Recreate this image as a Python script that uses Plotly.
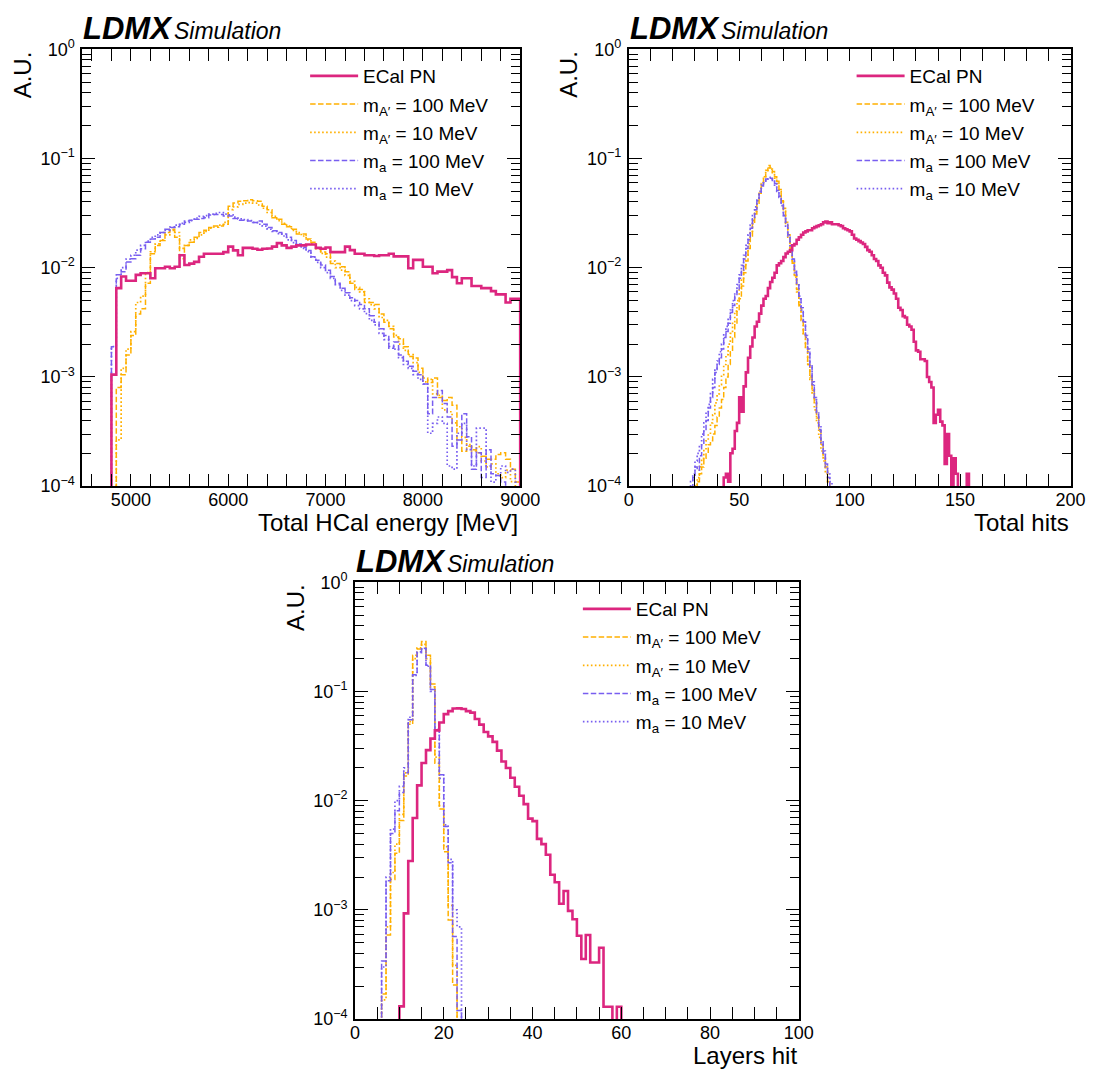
import numpy as np
import plotly.graph_objects as go

W, H = 1116, 1084

# ---------------- data ----------------
# Panel 1: Total HCal energy, 50 MeV bins starting at 4800 MeV
energy_start = 4800
energy_bin = 50
ecal_pn_energy = [
    1.05e-3, 6.5e-3, 8.3e-3, 7.6e-3, 7.6e-3, 8.6e-3, 8.9e-3, 8.9e-3, 8.0e-3, 9.9e-3,
    9.9e-3, 1.02e-2, 9.9e-3, 1.02e-2, 1.30e-2, 1.06e-2, 1.09e-2, 1.13e-2, 1.26e-2, 1.34e-2,
    1.34e-2, 1.34e-2, 1.34e-2, 1.39e-2, 1.56e-2, 1.44e-2, 1.30e-2, 1.52e-2, 1.52e-2, 1.49e-2,
    1.46e-2, 1.49e-2, 1.50e-2, 1.56e-2, 1.68e-2, 1.60e-2, 1.52e-2, 1.56e-2, 1.60e-2, 1.60e-2,
    1.63e-2, 1.63e-2, 1.52e-2, 1.49e-2, 1.53e-2, 1.39e-2, 1.39e-2, 1.39e-2, 1.56e-2, 1.45e-2,
    1.34e-2, 1.34e-2, 1.30e-2, 1.30e-2, 1.28e-2, 1.30e-2, 1.30e-2, 1.34e-2, 1.27e-2, 1.27e-2,
    1.27e-2, 9.9e-3, 1.18e-2, 1.18e-2, 1.02e-2, 1.02e-2, 8.9e-3, 9.2e-3, 9.2e-3, 9.5e-3,
    8.2e-3, 7.2e-3, 8.0e-3, 8.0e-3, 6.8e-3, 6.8e-3, 6.5e-3, 6.5e-3, 6.1e-3, 5.7e-3,
    5.7e-3, 4.8e-3, 5.2e-3, 5.2e-3]
aprime100_energy = [
    0, 8.0e-4, 1.05e-3, 1.59e-3, 2.4e-3, 3.77e-3, 4.2e-3, 7.2e-3, 1.34e-2, 1.6e-2,
    1.77e-2, 2.1e-2, 2.25e-2, 1.9e-2, 1.21e-2, 1.6e-2, 1.71e-2, 1.9e-2, 2.1e-2, 2.2e-2,
    2.33e-2, 2.41e-2, 2.41e-2, 2.5e-2, 3.65e-2, 3.91e-2, 4.05e-2, 4.1e-2, 4.19e-2, 4.1e-2,
    4.05e-2, 3.65e-2, 3.4e-2, 2.87e-2, 2.77e-2, 2.5e-2, 2.37e-2, 2.25e-2, 2.03e-2, 2.03e-2,
    1.83e-2, 1.71e-2, 1.49e-2, 1.39e-2, 1.34e-2, 1.09e-2, 1.09e-2, 1.02e-2, 9.2e-3, 7.2e-3,
    6.3e-3, 6.3e-3, 4.8e-3, 4.8e-3, 4.6e-3, 3.77e-3, 3.16e-3, 2.76e-3, 2.32e-3, 2.24e-3,
    1.89e-3, 1.54e-3, 1.49e-3, 1.2e-3, 9.8e-4, 8.9e-4, 9.8e-4, 6.5e-4, 6.1e-4, 6.5e-4,
    5.5e-4, 2.65e-4, 2.09e-4, 2.32e-4, 2.16e-4, 2.02e-4, 1.88e-4, 1.76e-4, 1.76e-4, 1.95e-4,
    2.02e-4, 1.76e-4, 1.43e-4, 1.09e-4]
aprime10_energy = [
    0, 2.65e-4, 1.2e-3, 1.8e-3, 2.6e-3, 4.8e-3, 5.5e-3, 9.0e-3, 1.4e-2, 1.65e-2,
    1.8e-2, 2.0e-2, 2.2e-2, 2.1e-2, 1.5e-2, 1.6e-2, 1.8e-2, 1.85e-2, 2.0e-2, 2.15e-2,
    2.3e-2, 2.35e-2, 2.45e-2, 2.6e-2, 3.4e-2, 3.6e-2, 3.8e-2, 3.9e-2, 3.95e-2, 3.9e-2,
    3.75e-2, 3.5e-2, 3.2e-2, 2.95e-2, 2.7e-2, 2.55e-2, 2.4e-2, 2.2e-2, 2.1e-2, 1.95e-2,
    1.8e-2, 1.65e-2, 1.5e-2, 1.35e-2, 1.25e-2, 1.15e-2, 1.0e-2, 9.5e-3, 8.5e-3, 7.5e-3,
    6.6e-3, 6.0e-3, 5.2e-3, 4.6e-3, 4.2e-3, 3.5e-3, 3.3e-3, 2.9e-3, 2.4e-3, 2.0e-3,
    1.75e-3, 1.6e-3, 1.35e-3, 1.1e-3, 9.0e-4, 9.5e-4, 7.0e-4, 6.8e-4, 5.0e-4, 4.8e-4,
    3.8e-4, 3.5e-4, 2.8e-4, 2.4e-4, 2.1e-4, 2.3e-4, 1.7e-4, 1.5e-4, 1.6e-4, 1.3e-4,
    1.2e-4, 1.4e-4, 1.1e-4, 0]
alp100_energy = [
    1.89e-3, 8.6e-3, 9.2e-3, 1.13e-2, 1.21e-2, 1.3e-2, 1.49e-2, 1.71e-2, 1.83e-2, 1.9e-2,
    2.1e-2, 2.25e-2, 2.33e-2, 2.37e-2, 2.5e-2, 2.68e-2, 2.72e-2, 2.77e-2, 2.82e-2, 2.87e-2,
    3.03e-2, 3.07e-2, 3.07e-2, 2.97e-2, 2.97e-2, 2.82e-2, 2.72e-2, 2.72e-2, 2.68e-2, 2.59e-2,
    2.68e-2, 2.5e-2, 2.33e-2, 2.18e-2, 2.1e-2, 2.03e-2, 1.9e-2, 1.77e-2, 1.65e-2, 1.54e-2,
    1.44e-2, 1.26e-2, 1.17e-2, 1.06e-2, 9.5e-3, 8.3e-3, 7.2e-3, 6.5e-3, 5.9e-3, 5.3e-3,
    5.0e-3, 4.6e-3, 4.2e-3, 3.64e-3, 3.16e-3, 2.76e-3, 2.4e-3, 1.83e-3, 2.09e-3, 1.59e-3,
    1.39e-3, 1.25e-3, 1.13e-3, 1.05e-3, 8.6e-4, 4.6e-4, 6.5e-4, 7.5e-4, 5.7e-4, 4.3e-4,
    2.32e-4, 2.65e-4, 4.6e-4, 2.84e-4, 1.43e-4, 2.02e-4, 1.2e-4, 2.16e-4, 1.3e-4, 1.25e-4,
    1.09e-4, 0, 0, 0]
alp10_energy = [
    1.9e-3, 8.0e-3, 1.0e-2, 1.2e-2, 1.3e-2, 1.45e-2, 1.6e-2, 1.75e-2, 1.9e-2, 2.0e-2,
    2.1e-2, 2.2e-2, 2.35e-2, 2.45e-2, 2.55e-2, 2.6e-2, 2.7e-2, 2.85e-2, 2.95e-2, 3.0e-2,
    3.1e-2, 3.15e-2, 3.2e-2, 3.1e-2, 3.05e-2, 2.9e-2, 2.8e-2, 2.75e-2, 2.7e-2, 2.6e-2,
    2.5e-2, 2.4e-2, 2.25e-2, 2.15e-2, 2.05e-2, 1.95e-2, 1.8e-2, 1.7e-2, 1.6e-2, 1.5e-2,
    1.4e-2, 1.25e-2, 1.12e-2, 1.0e-2, 9.0e-3, 8.0e-3, 7.0e-3, 6.2e-3, 5.6e-3, 5.0e-3,
    4.5e-3, 4.2e-3, 3.8e-3, 3.3e-3, 3.0e-3, 2.5e-3, 2.2e-3, 1.9e-3, 1.8e-3, 1.5e-3,
    1.3e-3, 1.2e-3, 1.05e-3, 9.5e-4, 8.6e-4, 3.05e-4, 3.75e-4, 4.3e-4, 3.75e-4, 1.53e-4,
    1.43e-4, 3.05e-4, 3.75e-4, 2.16e-4, 1.53e-4, 3.4e-4, 3.4e-4, 1.53e-4, 1.09e-4, 1.25e-4,
    1.53e-4, 1.34e-4, 1.43e-4, 1.09e-4]

# Panel 2: Total hits, unit bins; first bin of each list given by *_start
hits_bin = 1
ecal_pn_hits_start = 43
ecal_pn_hits = [
    1.2e-4, 1.3e-4, 1.1e-4, 2.0e-4, 2.2e-4, 3.2e-4, 3.8e-4, 6.5e-4, 4.8e-4, 8.2e-4,
    1.1e-3, 1.5e-3, 1.9e-3, 2.3e-3, 2.9e-3, 3.2e-3, 3.8e-3, 4.5e-3, 5.2e-3, 5.5e-3,
    6.5e-3, 7.4e-3, 8.1e-3, 9.0e-3, 1.05e-2, 1.1e-2, 1.15e-2, 1.25e-2, 1.35e-2, 1.4e-2,
    1.45e-2, 1.6e-2, 1.65e-2, 1.8e-2, 1.9e-2, 2.0e-2, 2.1e-2, 2.15e-2, 2.2e-2, 2.2e-2,
    2.3e-2, 2.35e-2, 2.4e-2, 2.45e-2, 2.5e-2, 2.6e-2, 2.65e-2, 2.55e-2, 2.6e-2, 2.5e-2,
    2.5e-2, 2.5e-2, 2.45e-2, 2.4e-2, 2.3e-2, 2.25e-2, 2.2e-2, 2.15e-2, 2.0e-2, 1.85e-2,
    1.8e-2, 1.75e-2, 1.7e-2, 1.65e-2, 1.55e-2, 1.45e-2, 1.4e-2, 1.3e-2, 1.2e-2, 1.15e-2,
    1.05e-2, 1.0e-2, 9.0e-3, 8.5e-3, 7.3e-3, 6.6e-3, 6.3e-3, 5.8e-3, 5.2e-3, 4.3e-3,
    4.1e-3, 3.6e-3, 3.5e-3, 3.0e-3, 2.9e-3, 2.7e-3, 2.1e-3, 1.75e-3, 1.7e-3, 1.45e-3,
    1.45e-3, 1.4e-3, 1.0e-3, 9.0e-4, 8.0e-4, 3.8e-4, 4.5e-4, 5.0e-4, 3.9e-4, 3.6e-4,
    1.6e-4, 3.0e-4, 1.9e-4, 0, 1.8e-4, 1.3e-4, 0, 0, 0, 0,
    1.3e-4]
aprime100_hits_start = 31
aprime100_hits = [
    1.1e-4, 1.3e-4, 1.5e-4, 1.8e-4, 2.0e-4, 2.4e-4, 2.6e-4, 3.0e-4, 3.6e-4, 4.3e-4,
    5.2e-4, 6.2e-4, 8.0e-4, 1.0e-3, 1.3e-3, 1.7e-3, 2.3e-3, 3.0e-3, 4.0e-3, 5.2e-3,
    6.8e-3, 9.0e-3, 1.15e-2, 1.5e-2, 1.95e-2, 2.5e-2, 3.1e-2, 3.9e-2, 4.8e-2, 5.8e-2,
    6.8e-2, 7.8e-2, 8.6e-2, 8.2e-2, 7.6e-2, 6.8e-2, 6.2e-2, 5.2e-2, 4.1e-2, 3.5e-2,
    2.6e-2, 2.0e-2, 1.5e-2, 1.1e-2, 8.5e-3, 6.3e-3, 4.6e-3, 3.4e-3, 2.5e-3, 1.9e-3,
    1.3e-3, 1.0e-3, 7.5e-4, 6.0e-4, 4.2e-4, 3.2e-4, 2.4e-4, 1.9e-4, 1.5e-4, 1.1e-4]
aprime10_hits_start = 30
aprime10_hits = [
    1.0e-4, 1.2e-4, 1.5e-4, 1.8e-4, 2.2e-4, 2.6e-4, 3.0e-4, 3.8e-4, 4.5e-4, 5.8e-4,
    7.0e-4, 8.5e-4, 1.05e-3, 1.3e-3, 1.6e-3, 2.0e-3, 2.5e-3, 3.2e-3, 4.0e-3, 5.0e-3,
    6.4e-3, 8.0e-3, 1.02e-2, 1.3e-2, 1.65e-2, 2.1e-2, 2.7e-2, 3.3e-2, 4.1e-2, 5.0e-2,
    5.9e-2, 6.8e-2, 7.6e-2, 8.2e-2, 8.0e-2, 7.4e-2, 6.6e-2, 5.9e-2, 5.0e-2, 4.0e-2,
    3.3e-2, 2.5e-2, 1.9e-2, 1.45e-2, 1.1e-2, 8.2e-3, 6.0e-3, 4.5e-3, 3.3e-3, 2.4e-3,
    1.8e-3, 1.3e-3, 9.5e-4, 7.0e-4, 5.0e-4, 3.8e-4, 2.8e-4, 2.1e-4, 1.7e-4, 1.3e-4,
    1.1e-4]
alp100_hits_start = 29
alp100_hits = [
    1.2e-4, 1.5e-4, 1.4e-4, 1.9e-4, 2.4e-4, 3.3e-4, 4.0e-4, 5.2e-4, 6.5e-4, 8.0e-4,
    1.1e-3, 1.3e-3, 1.5e-3, 1.8e-3, 2.3e-3, 2.6e-3, 3.1e-3, 3.9e-3, 4.5e-3, 5.5e-3,
    6.4e-3, 8.0e-3, 9.5e-3, 1.2e-2, 1.5e-2, 1.8e-2, 2.3e-2, 2.8e-2, 3.4e-2, 4.1e-2,
    4.9e-2, 5.6e-2, 6.1e-2, 6.5e-2, 6.6e-2, 6.6e-2, 6.3e-2, 5.9e-2, 5.1e-2, 4.5e-2,
    3.8e-2, 3.0e-2, 2.5e-2, 2.0e-2, 1.6e-2, 1.2e-2, 9.3e-3, 7.0e-3, 5.2e-3, 4.3e-3,
    3.2e-3, 2.4e-3, 1.8e-3, 1.3e-3, 8.5e-4, 6.5e-4, 4.5e-4, 3.3e-4, 2.6e-4, 2.0e-4,
    1.6e-4, 1.2e-4]
alp10_hits_start = 28
alp10_hits = [
    1.1e-4, 1.3e-4, 1.7e-4, 2.0e-4, 2.3e-4, 3.0e-4, 3.8e-4, 4.8e-4, 5.6e-4, 7.2e-4,
    9.5e-4, 1.2e-3, 1.4e-3, 1.7e-3, 2.0e-3, 2.5e-3, 2.9e-3, 3.5e-3, 4.1e-3, 5.0e-3,
    6.0e-3, 7.0e-3, 8.6e-3, 1.05e-2, 1.3e-2, 1.6e-2, 2.0e-2, 2.45e-2, 3.0e-2, 3.6e-2,
    4.3e-2, 5.0e-2, 5.7e-2, 6.2e-2, 6.5e-2, 6.7e-2, 6.5e-2, 6.2e-2, 5.7e-2, 5.0e-2,
    4.4e-2, 3.7e-2, 3.0e-2, 2.4e-2, 1.9e-2, 1.55e-2, 1.2e-2, 9.0e-3, 7.2e-3, 5.5e-3,
    4.1e-3, 3.3e-3, 2.3e-3, 1.7e-3, 1.25e-3, 9.0e-4, 6.2e-4, 4.8e-4, 3.5e-4, 2.5e-4,
    2.1e-4, 1.5e-4, 1.3e-4, 1.1e-4]

# Panel 3: Layers hit, unit bins
layers_bin = 1
ecal_pn_layers_start = 10
ecal_pn_layers = [
    1.31e-4, 9.3e-4, 2.8e-3, 6.95e-3, 1.38e-2, 2.21e-2, 2.9e-2, 3.7e-2, 4.4e-2, 5.2e-2,
    6.2e-2, 6.6e-2, 6.97e-2, 7.0e-2, 6.9e-2, 6.6e-2, 6.4e-2, 5.6e-2, 4.97e-2, 4.25e-2,
    3.88e-2, 3.45e-2, 2.87e-2, 2.28e-2, 1.99e-2, 1.62e-2, 1.34e-2, 1.11e-2, 9.3e-3, 6.85e-3,
    6.5e-3, 4.47e-3, 4.0e-3, 3.2e-3, 2.1e-3, 1.79e-3, 1.14e-3, 1.49e-3, 9.8e-4, 8.2e-4,
    5.8e-4, 3.55e-4, 5.9e-4, 3.3e-4, 3.3e-4, 4.5e-4, 1.3e-4, 1.3e-4, 0, 1.3e-4]
aprime100_layers_start = 6
aprime100_layers = [
    1.7e-4, 5.9e-4, 1.9e-3, 3.3e-3, 6.6e-3, 1.68e-2, 5.0e-2, 0.214, 0.245, 0.286,
    0.214, 0.117, 2.2e-2, 8.4e-3, 3.4e-3, 8.1e-4, 2.05e-4]
aprime10_layers_start = 6
aprime10_layers = [
    1.5e-4, 7.0e-4, 2.2e-3, 4.0e-3, 7.5e-3, 1.8e-2, 5.3e-2, 0.20, 0.25, 0.27,
    0.20, 0.11, 2.5e-2, 9.0e-3, 3.8e-3, 1.1e-3, 3.1e-4]
alp100_layers_start = 6
alp100_layers = [
    3.4e-4, 1.85e-3, 5.0e-3, 8.1e-3, 1.19e-2, 1.8e-2, 5.5e-2, 0.142, 0.226, 0.249,
    0.174, 0.104, 4.5e-2, 1.73e-2, 5.8e-3, 2.7e-3, 5.7e-4, 1.2e-4]
alp10_layers_start = 6
alp10_layers = [
    3.0e-4, 2.0e-3, 5.5e-3, 1.0e-2, 1.35e-2, 2.0e-2, 5.8e-2, 0.14, 0.23, 0.245,
    0.17, 0.10, 4.3e-2, 1.6e-2, 6.0e-3, 2.9e-3, 1.0e-3, 7.0e-4]

series_names = ["ECal PN", "m<sub>A′</sub> = 100 MeV", "m<sub>A′</sub> = 10 MeV",
                "m<sub>a</sub> = 100 MeV", "m<sub>a</sub> = 10 MeV"]
x_titles = ["Total HCal energy [MeV]", "Total hits", "Layers hit"]

# ---------------- styling ----------------
COLORS = ["#DC267F", "#FFB000", "#FFB000", "#785EF0", "#785EF0"]
DASHES = ["solid", "5.5px,2.4px", "1.6px,2.4px", "5.5px,2.4px", "1.6px,2.4px"]
WIDTHS = [2.6, 1.5, 1.7, 1.5, 1.7]
FONT = "Liberation Sans, Arial, Helvetica, sans-serif"
FLOOR = 1e-9


def step_xy(start, width, vals):
    v = [0.0] + [float(a) for a in vals] + [0.0]
    edges = start - width + width * np.arange(len(v) + 1)
    y = np.maximum(np.array(v + [v[-1]], dtype=float), FLOOR)
    return edges, y


def px_x(p):
    return p / W


def px_y(p):
    return 1 - p / H


fig = go.Figure()

panels = [
    dict(start=[energy_start] * 5, width=energy_bin,
         data=[ecal_pn_energy, aprime100_energy, aprime10_energy, alp100_energy, alp10_energy]),
    dict(start=[ecal_pn_hits_start, aprime100_hits_start, aprime10_hits_start,
                alp100_hits_start, alp10_hits_start], width=hits_bin,
         data=[ecal_pn_hits, aprime100_hits, aprime10_hits, alp100_hits, alp10_hits]),
    dict(start=[ecal_pn_layers_start, aprime100_layers_start, aprime10_layers_start,
                alp100_layers_start, alp10_layers_start], width=layers_bin,
         data=[ecal_pn_layers, aprime100_layers, aprime10_layers, alp100_layers, alp10_layers]),
]

legend_ids = ["legend", "legend2", "legend3"]
for p_i, panel in enumerate(panels):
    ax = "" if p_i == 0 else str(p_i + 1)
    order = [1, 2, 3, 4, 0]
    for s_i in order:
        xs, ys = step_xy(panel["start"][s_i], panel["width"], panel["data"][s_i])
        fig.add_trace(go.Scatter(
            x=xs, y=ys, mode="lines", name=series_names[s_i],
            line=dict(color=COLORS[s_i], width=WIDTHS[s_i], dash=DASHES[s_i], shape="hv", simplify=False),
            xaxis="x" + ax, yaxis="y" + ax, legend=legend_ids[p_i],
            legendrank=s_i + 1, legendgroup=f"p{p_i}s{s_i}", hoverinfo="skip"))

# axes geometry (pixels)
boxes = [
    dict(x0=79, x1=527, y0=38, y1=484, rng=[4500, 9000], dtick=1000, minor=200),
    dict(x0=638, x1=1090, y0=38, y1=484, rng=[0, 200], dtick=50, minor=10),
    dict(x0=358, x1=812, y0=582, y1=1028, rng=[0, 100], dtick=20, minor=5),
]

ytickvals = [1e-4, 1e-3, 1e-2, 1e-1, 1]
yticktext = ["10<sup>−4</sup>", "10<sup>−3</sup>", "10<sup>−2</sup>", "10<sup>−1</sup>", "10<sup>0</sup>"]
yminor = [k * 10.0 ** e for e in range(-4, 0) for k in range(2, 10)]

layout = dict(width=W, height=H, autosize=False,
              margin=dict(l=0, r=0, t=0, b=0),
              paper_bgcolor="white", plot_bgcolor="white",
              font=dict(family=FONT, color="black", size=18),
              annotations=[])

for i, b in enumerate(boxes):
    ax = "" if i == 0 else str(i + 1)
    layout["xaxis" + ax] = dict(
        domain=[px_x(b["x0"]), px_x(b["x1"])], range=b["rng"], anchor="y" + ax,
        tickmode="linear", tick0=0, dtick=b["dtick"],
        ticks="inside", ticklen=12, tickwidth=1.3, tickcolor="black",
        minor=dict(ticks="inside", ticklen=12, tickwidth=1.3, tickcolor="black",
                   tickmode="linear", tick0=0, dtick=b["minor"], showgrid=False),
        showline=True, linecolor="black", linewidth=1.6, mirror="allticks",
        ticklabelstandoff=-4,
        showgrid=False, zeroline=False, tickfont=dict(size=18, family=FONT, color="black"))
    layout["yaxis" + ax] = dict(
        domain=[px_y(b["y1"]), px_y(b["y0"])], type="log", range=[-4, 0], anchor="x" + ax,
        tickmode="array", tickvals=ytickvals, ticktext=yticktext,
        ticks="inside", ticklen=13, tickwidth=1.3, tickcolor="black",
        minor=dict(ticks="inside", ticklen=9, tickwidth=1.3, tickcolor="black",
                   tickmode="array", tickvals=yminor, showgrid=False),
        showline=True, linecolor="black", linewidth=1.6, mirror="allticks",
        ticklabelstandoff=2,
        showgrid=False, zeroline=False, tickfont=dict(size=18, family=FONT, color="black"))
    # legend
    layout[legend_ids[i]] = dict(
        x=px_x(b["x0"] + 228), y=px_y(b["y0"] + 8), xanchor="left", yanchor="top",
        bgcolor="rgba(0,0,0,0)", borderwidth=0, tracegroupgap=0.5, itemwidth=48,
        font=dict(size=19, family=FONT, color="black"))
    # experiment label
    layout["annotations"].append(dict(
        text="<b><i>LDMX</i></b>", x=px_x(b["x0"] - 1), y=px_y(b["y0"] - 21),
        xref="paper", yref="paper", xanchor="left", yanchor="middle", showarrow=False,
        font=dict(size=31, family=FONT, color="black")))
    layout["annotations"].append(dict(
        text="<i>Simulation</i>", x=px_x(b["x0"] + 92), y=px_y(b["y0"] - 19),
        xref="paper", yref="paper", xanchor="left", yanchor="middle", showarrow=False,
        font=dict(size=23, family=FONT, color="black")))
    # y label
    layout["annotations"].append(dict(
        text="A.U.", x=px_x(b["x0"] - 61), y=px_y(b["y0"]), textangle=-90,
        xref="paper", yref="paper", xanchor="center", yanchor="top", showarrow=False,
        font=dict(size=24, family=FONT, color="black")))
    # x label
    layout["annotations"].append(dict(
        text=x_titles[i], x=px_x(b["x1"]), y=px_y(b["y1"] + 37),
        xref="paper", yref="paper", xanchor="right", yanchor="middle", showarrow=False,
        font=dict(size=24, family=FONT, color="black")))

fig.update_layout(**layout)
fig.write_html("out.html")
